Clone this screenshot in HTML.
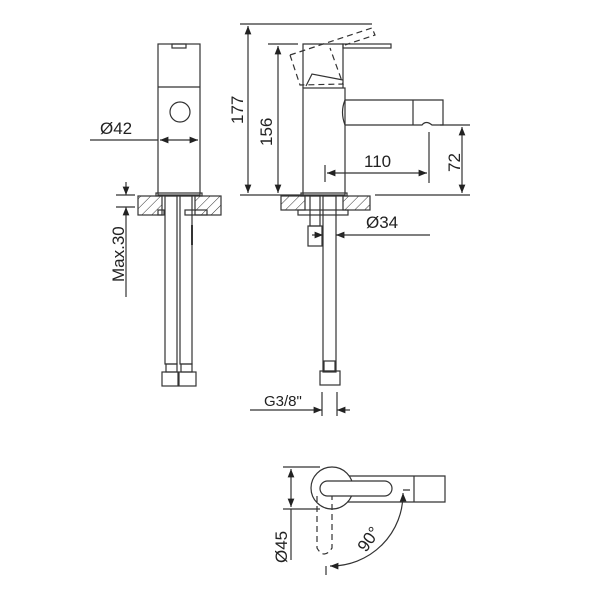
<!DOCTYPE html>
<html><head><style>body{margin:0;background:#fff}svg{display:block}text{font-family:"Liberation Sans",sans-serif;fill:#222}</style></head>
<body>
<svg width="600" height="600" viewBox="0 0 600 600" xmlns="http://www.w3.org/2000/svg">
<defs>
<pattern id="h" width="7" height="7" patternUnits="userSpaceOnUse" patternTransform="rotate(45)"><line x1="0" y1="0" x2="0" y2="7" stroke="#333" stroke-width="1"/></pattern>
<marker id="a" viewBox="0 0 10 10" refX="10" refY="5" markerWidth="7" markerHeight="7" orient="auto-start-reverse"><path d="M0,1 L10,5 L0,9z" fill="#222"/></marker>
</defs>
<g fill="none" stroke="#333" stroke-width="1.2">
<!-- LEFT VIEW -->
<rect x="158" y="44" width="42" height="151"/>
<rect x="172" y="44" width="14" height="4"/>
<line x1="158" y1="87" x2="200" y2="87"/>
<circle cx="180" cy="112" r="10"/>
<line x1="90" y1="140" x2="158" y2="140"/>
<line x1="160" y1="140" x2="198" y2="140" marker-start="url(#a)" marker-end="url(#a)"/>
<rect x="156" y="193" width="46" height="3"/>
<rect x="138" y="196" width="24" height="19" fill="url(#h)"/>
<rect x="195" y="196" width="26" height="19" fill="url(#h)"/>
<rect x="158" y="210" width="6" height="5"/><rect x="185" y="210" width="22" height="5"/>
<rect x="165" y="196" width="12" height="168"/>
<rect x="180" y="196" width="12" height="168"/>
<line x1="192" y1="225" x2="192" y2="245" stroke-width="2"/>
<rect x="166" y="364" width="11" height="8"/><rect x="181" y="364" width="11" height="8"/>
<rect x="162" y="372" width="16" height="14"/><rect x="179" y="372" width="17" height="14"/>
<line x1="116" y1="195" x2="135" y2="195"/><line x1="116" y1="207" x2="135" y2="207"/>
<line x1="126" y1="182" x2="126" y2="195" marker-end="url(#a)"/>
<line x1="126" y1="297" x2="126" y2="207" marker-end="url(#a)"/>
<!-- MIDDLE VIEW -->
<rect x="303" y="88" width="42" height="107"/>
<path d="M303,88 V44 H343 V88"/>
<rect x="343" y="44" width="48" height="4"/>
<path d="M306,86 L312,74 L343,80"/>
<path d="M290,55 L372,28 L375,35 L345,45 M290,55 L300,85 L343,84 L330,48" stroke-dasharray="6,4"/>
<path d="M345,100 H443 V125 H432 Q426,120 422,125 H345 Q340,112 345,100z"/>
<line x1="413" y1="100" x2="413" y2="125"/>
<line x1="240" y1="24" x2="372" y2="24"/>
<line x1="248" y1="26" x2="248" y2="193" marker-start="url(#a)" marker-end="url(#a)"/>
<line x1="268" y1="44" x2="298" y2="44"/>
<line x1="278" y1="46" x2="278" y2="193" marker-start="url(#a)" marker-end="url(#a)"/>
<line x1="240" y1="195" x2="303" y2="195"/><line x1="375" y1="195" x2="470" y2="195"/>
<line x1="325" y1="165" x2="325" y2="182"/><line x1="429" y1="132" x2="429" y2="183"/>
<line x1="327" y1="173" x2="427" y2="173" marker-start="url(#a)" marker-end="url(#a)"/>
<line x1="440" y1="125" x2="470" y2="125"/>
<line x1="462" y1="127" x2="462" y2="193" marker-start="url(#a)" marker-end="url(#a)"/>
<rect x="301" y="193" width="46" height="3"/>
<rect x="281" y="196" width="24" height="14" fill="url(#h)"/>
<rect x="343" y="196" width="27" height="14" fill="url(#h)"/>
<rect x="298" y="210" width="50" height="5"/>
<rect x="310" y="196" width="10" height="30"/>
<rect x="308" y="226" width="14" height="20"/>
<rect x="323" y="196" width="13" height="176"/>
<rect x="324" y="361" width="11" height="10"/>
<rect x="320" y="371" width="20" height="14"/>
<line x1="312" y1="235" x2="323" y2="235" marker-end="url(#a)"/>
<line x1="345" y1="235" x2="336" y2="235" marker-end="url(#a)"/>
<line x1="336" y1="235" x2="430" y2="235"/>
<line x1="322" y1="392" x2="322" y2="416"/><line x1="337" y1="392" x2="337" y2="416"/>
<line x1="250" y1="410" x2="322" y2="410" marker-end="url(#a)"/>
<line x1="350" y1="410" x2="337" y2="410" marker-end="url(#a)"/>
<!-- TOP VIEW -->
<path d="M340,476 H445 V502 H340"/>
<line x1="414" y1="476" x2="414" y2="502"/>
<circle cx="332" cy="488" r="21" fill="#fff"/>
<rect x="320" y="481" width="72" height="15" rx="7.5" fill="#fff"/>
<path d="M317,496 V548 Q324,560 332,548 V496" stroke-dasharray="6,4"/>
<line x1="283" y1="467" x2="320" y2="467"/><line x1="283" y1="509" x2="320" y2="509"/>
<line x1="291" y1="469" x2="291" y2="507" marker-start="url(#a)" marker-end="url(#a)"/>
<line x1="291" y1="509" x2="291" y2="560"/>
<path d="M403,493 A72,72 0 0 1 330,566" marker-start="url(#a)" marker-end="url(#a)"/>
<path d="M403,490 H410 M326,566 V575"/>
</g>
<text x="100" y="134" font-size="17">Ø42</text>
<text font-size="17" transform="translate(243,124) rotate(-90)">177</text>
<text font-size="17" transform="translate(272,146) rotate(-90)">156</text>
<text x="364" y="167" font-size="17">110</text>
<text font-size="17" transform="translate(460,172) rotate(-90)">72</text>
<text font-size="17" transform="translate(124,282) rotate(-90)">Max.30</text>
<text x="366" y="228" font-size="17">Ø34</text>
<text x="264" y="406" font-size="15">G3/8"</text>
<text font-size="17" transform="translate(287,563) rotate(-90)">Ø45</text>
<text font-size="17" transform="translate(366,553) rotate(-55)">90°</text>
</svg>
</body></html>
